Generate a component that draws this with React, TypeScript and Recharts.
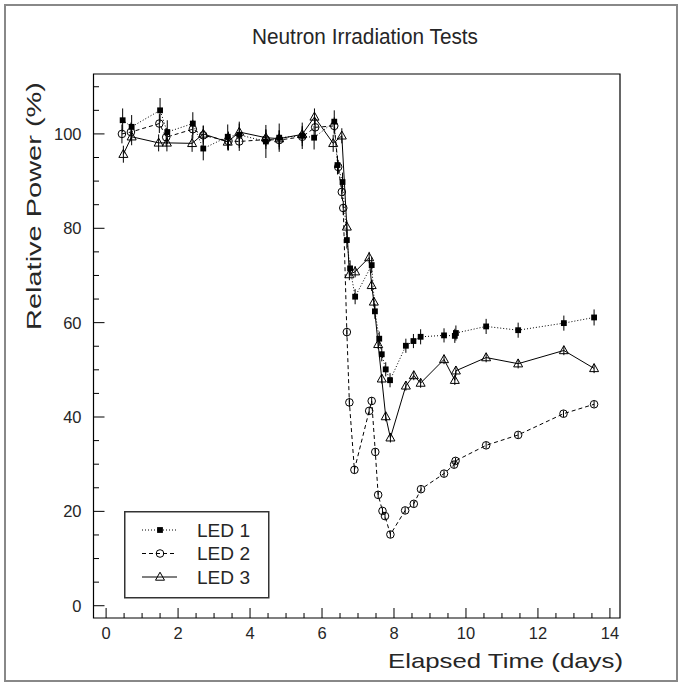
import React from 'react';
import { ComposedChart, Line, XAxis, YAxis, ErrorBar, ReferenceArea, Legend } from 'recharts';

const led1X = [0.46, 0.71, 1.5, 1.7, 2.41, 2.7, 3.38, 3.7, 4.44, 4.81, 5.45, 5.78, 6.34, 6.43, 6.57, 6.69, 6.78, 6.92, 7.38, 7.47, 7.59, 7.66, 7.77, 7.89, 8.33, 8.54, 8.74, 9.39, 9.69, 9.72, 10.56, 11.45, 12.72, 13.56];
const led1Y = [102.9, 101.5, 105.0, 100.4, 102.2, 96.9, 99.4, 99.8, 98.4, 99.2, 99.6, 99.2, 102.6, 93.4, 89.8, 77.5, 71.5, 65.5, 72.2, 62.4, 56.6, 53.3, 50.1, 47.8, 55.1, 56.1, 57.0, 57.3, 57.2, 57.8, 59.2, 58.4, 59.9, 61.1];
const led1Err = [2.5, 2.5, 2.6, 2.5, 2.4, 2.5, 2.6, 2.8, 3.5, 3.0, 2.8, 2.5, 2.4, 2.0, 2.0, 1.8, 1.7, 1.6, 1.7, 1.6, 1.5, 1.5, 1.5, 1.5, 1.5, 1.5, 1.6, 1.5, 1.5, 1.6, 1.6, 1.6, 1.6, 1.7];

const led2X = [0.44, 0.69, 1.48, 1.67, 2.41, 2.7, 3.4, 3.7, 4.44, 4.81, 5.45, 5.81, 6.34, 6.45, 6.55, 6.59, 6.69, 6.76, 6.9, 7.31, 7.38, 7.48, 7.56, 7.68, 7.75, 7.9, 8.31, 8.55, 8.75, 9.39, 9.67, 9.71, 10.56, 11.45, 12.71, 13.56];
const led2Y = [100.0, 100.4, 102.2, 99.3, 101.0, 99.7, 98.5, 98.4, 98.8, 98.7, 99.4, 101.4, 101.7, 93.0, 87.7, 84.3, 58.0, 43.1, 28.8, 41.3, 43.4, 32.6, 23.5, 20.1, 19.0, 15.1, 20.2, 21.6, 24.7, 28.0, 29.9, 30.7, 34.0, 36.2, 40.7, 42.7];
const led2Err = [2.0, 2.0, 2.0, 2.0, 2.0, 2.0, 2.0, 2.0, 2.0, 2.0, 2.0, 2.0, 1.8, 1.5, 1.5, 1.5, 1.0, 1.0, 0.8, 0.8, 0.8, 0.8, 0.7, 0.7, 0.7, 0.7, 0.7, 0.7, 0.7, 0.7, 0.7, 0.7, 0.7, 0.7, 0.7, 0.7];

const led3X = [0.48, 0.71, 1.46, 1.69, 2.39, 2.7, 3.38, 3.7, 4.44, 4.81, 5.45, 5.79, 6.31, 6.55, 6.69, 6.76, 6.92, 7.31, 7.38, 7.44, 7.56, 7.66, 7.77, 7.9, 8.33, 8.55, 8.74, 9.39, 9.69, 9.72, 10.56, 11.45, 12.72, 13.56];
const led3Y = [95.7, 99.4, 98.1, 98.1, 98.0, 100.0, 98.3, 100.4, 99.2, 99.0, 99.9, 103.6, 98.0, 99.6, 80.3, 70.2, 70.8, 73.8, 67.9, 64.4, 55.4, 48.1, 40.1, 35.6, 46.6, 48.8, 47.2, 52.2, 47.8, 49.8, 52.6, 51.3, 54.1, 50.3];
const led3Err = [1.8, 1.8, 1.8, 1.8, 1.8, 1.8, 1.8, 1.8, 1.8, 1.8, 1.8, 1.8, 1.8, 1.6, 1.4, 1.2, 1.2, 1.2, 1.2, 1.0, 1.0, 1.0, 1.0, 1.0, 1.0, 1.0, 1.0, 1.0, 1.0, 1.0, 1.0, 1.0, 1.0, 1.0];

const legendNames = ['LED 1', 'LED 2', 'LED 3'];
const titleText = 'Neutron Irradiation Tests';
const xTitle = 'Elapsed Time (days)';
const yTitle = 'Relative Power (%)';
const xTicks = [0, 0.5, 1, 1.5, 2, 2.5, 3, 3.5, 4, 4.5, 5, 5.5, 6, 6.5, 7, 7.5, 8, 8.5, 9, 9.5, 10, 10.5, 11, 11.5, 12, 12.5, 13, 13.5, 14];
const xMajor = [0, 2, 4, 6, 8, 10, 12, 14];
const yTicks = [0, 5, 10, 15, 20, 25, 30, 35, 40, 45, 50, 55, 60, 65, 70, 75, 80, 85, 90, 95, 100, 105, 110];
const yMajor = [0, 20, 40, 60, 80, 100];
const xDomain = [-0.35, 14.28];
const yDomain = [-2.6, 112.7];

const zip = (xs: number[], ys: number[], es: number[]) => xs.map((x, i) => ({ x, y: ys[i], err: es[i] }));
const led1 = zip(led1X, led1Y, led1Err);
const led2 = zip(led2X, led2Y, led2Err);
const led3 = zip(led3X, led3Y, led3Err);

const W = 680, H = 684;
const PL = 93.5, PR = 620, PT = 74, PB = 618;
const FONT = '"Liberation Sans", Arial, sans-serif';
const TXT = '#262626';

const squareAt = (cx: number, cy: number, k?: string) => (
  <rect key={k} x={cx - 2.9} y={cy - 2.9} width={5.8} height={5.8} fill="#000" stroke="none" />
);
const circleAt = (cx: number, cy: number, k?: string) => (
  <circle key={k} cx={cx} cy={cy} r={3.8} fill="none" stroke="#000" strokeWidth={1} />
);
const triAt = (cx: number, cy: number, k?: string) => (
  <path key={k} d={`M${cx - 4.5},${cy + 3.2} L${cx + 4.5},${cy + 3.2} L${cx},${cy - 4.8} Z`} fill="none" stroke="#000" strokeWidth={1} />
);

const mkDot = (fn: (cx: number, cy: number, k?: string) => React.ReactElement, tag: string) => (p: any) => {
  const k = `${tag}-${p.index}`;
  if (p.cx == null || p.cy == null) return <g key={k} />;
  return fn(p.cx, p.cy, k);
};

const XTick = (p: any) => {
  const v = p.payload.value;
  const x = p.x;
  const major = xMajor.includes(v);
  return (
    <g>
      <line x1={x} x2={x} y1={PB} y2={PB - (major ? 10 : 5)} stroke="#000" strokeWidth={1} />
      {major && (
        <text x={x} y={PB + 15} textAnchor="middle" dominantBaseline="central" fontFamily={FONT} fontSize={16.5} fill={TXT}>
          {v}
        </text>
      )}
    </g>
  );
};

const YTick = (p: any) => {
  const v = p.payload.value;
  const y = p.y;
  const major = yMajor.includes(v);
  return (
    <g>
      <line x1={PL} x2={PL + (major ? 11 : 5.5)} y1={y} y2={y} stroke="#000" strokeWidth={1} />
      {major && (
        <text x={PL - 12} y={y} textAnchor="end" dominantBaseline="central" fontFamily={FONT} fontSize={16.5} fill={TXT}>
          {v}
        </text>
      )}
    </g>
  );
};

const LegendBox = () => {
  const rows = [
    { dash: '1 2', mark: squareAt },
    { dash: '4 3', mark: circleAt },
    { dash: undefined, mark: triAt },
  ];
  return (
    <svg width={146} height={88} style={{ display: 'block' }}>
      <rect x={0.75} y={0.75} width={144} height={86} fill="#fff" stroke="#333" strokeWidth={1.5} />
      {rows.map((r, i) => {
        const cy = 19 + i * 23.5;
        return (
          <g key={i}>
            <line x1={18} x2={53} y1={cy} y2={cy} stroke="#000" strokeWidth={1} strokeDasharray={r.dash} />
            {r.mark(36, cy)}
            <text x={73} y={cy} dominantBaseline="central" fontFamily={FONT} fontSize={19} fill={TXT} textLength={53} lengthAdjust="spacingAndGlyphs">
              {legendNames[i]}
            </text>
          </g>
        );
      })}
    </svg>
  );
};

export default function App() {
  return (
    <div style={{ position: 'relative', width: W, height: H, background: '#fff' }}>
      <style>{'body{margin:0;background:#fff;}'}</style>
      <div style={{ position: 'absolute', left: 4, top: 4, width: 670, height: 674, border: '2px solid #888' }} />
      <svg width={W} height={60} style={{ position: 'absolute', left: 0, top: 0 }}>
        <text x={252} y={36} dominantBaseline="central" fontFamily={FONT} fontSize={22} fill={TXT} textLength={226} lengthAdjust="spacingAndGlyphs">
          {titleText}
        </text>
      </svg>
      <ComposedChart
        width={W}
        height={H}
        margin={{ top: PT, right: W - PR, bottom: H - PB - 30, left: 0 }}
        style={{ position: 'absolute', left: 0, top: 0 }}
      >
        <XAxis
          type="number"
          dataKey="x"
          domain={xDomain}
          ticks={xTicks}
          interval={0}
          allowDataOverflow
          axisLine={false}
          tickLine={false}
          tick={XTick}
          height={30}
          label={() => (
            <text x={388} y={660} dominantBaseline="central" fontFamily={FONT} fontSize={21} fill={TXT} textLength={235} lengthAdjust="spacingAndGlyphs">
              {xTitle}
            </text>
          )}
        />
        <YAxis
          type="number"
          domain={yDomain}
          ticks={yTicks}
          interval={0}
          allowDataOverflow
          axisLine={false}
          tickLine={false}
          tick={YTick}
          width={PL}
          label={() => (
            <text x={33} y={330} transform="rotate(-90, 33, 330)" dominantBaseline="central" fontFamily={FONT} fontSize={21} fill={TXT} textLength={248} lengthAdjust="spacingAndGlyphs">
              {yTitle}
            </text>
          )}
        />
        <ReferenceArea x1={xDomain[0]} x2={xDomain[1]} y1={yDomain[0]} y2={yDomain[1]} fill="none" stroke="#000" strokeWidth={1.2} ifOverflow="visible" />
        <Line data={led1} dataKey="y" type="linear" stroke="#000" strokeWidth={1} strokeDasharray="1 2" dot={mkDot(squareAt, 'a')} activeDot={false} isAnimationActive={false} legendType="none">
          <ErrorBar dataKey="err" direction="y" width={0} stroke="#000" strokeWidth={1} />
        </Line>
        <Line data={led2} dataKey="y" type="linear" stroke="#000" strokeWidth={1} strokeDasharray="4 3" dot={mkDot(circleAt, 'b')} activeDot={false} isAnimationActive={false} legendType="none">
          <ErrorBar dataKey="err" direction="y" width={0} stroke="#000" strokeWidth={1} />
        </Line>
        <Line data={led3} dataKey="y" type="linear" stroke="#000" strokeWidth={1} dot={mkDot(triAt, 'c')} activeDot={false} isAnimationActive={false} legendType="none">
          <ErrorBar dataKey="err" direction="y" width={0} stroke="#000" strokeWidth={1} />
        </Line>
        <Legend
          layout="horizontal"
          verticalAlign="middle"
          align="center"
          content={LegendBox}
          wrapperStyle={{ position: 'absolute', left: 124, top: 511, width: 146, height: 88 }}
        />
      </ComposedChart>
    </div>
  );
}
